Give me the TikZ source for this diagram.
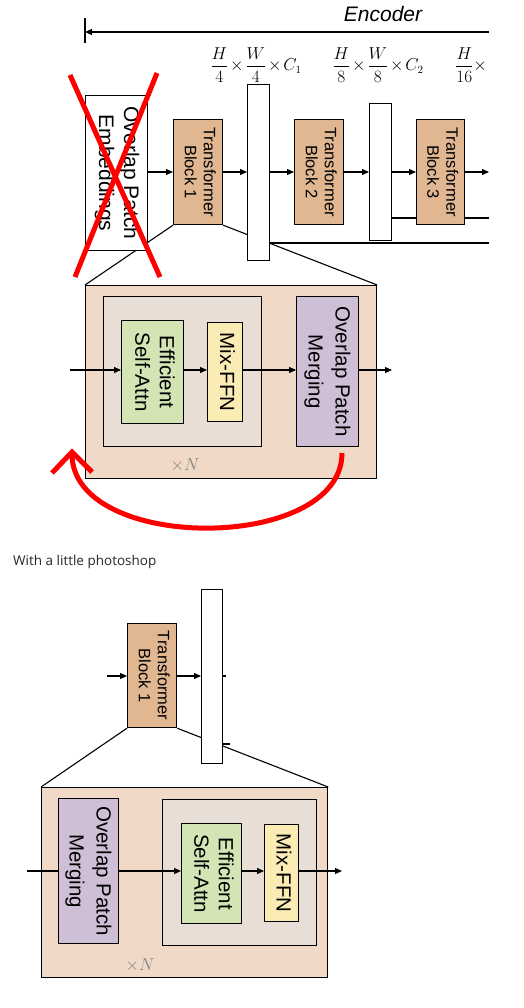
\documentclass[tikz,border=0pt]{standalone}
\usepackage[no-math]{fontspec}
\setmainfont{Liberation Sans}
\newfontfamily\notefont{Open Sans}
\usepackage{graphicx}
\usetikzlibrary{arrows.meta,backgrounds}
\definecolor{tbc}{RGB}{225,183,146}
\definecolor{bigc}{RGB}{240,218,199}
\definecolor{innc}{RGB}{232,222,214}
\definecolor{grc}{RGB}{211,229,180}
\definecolor{yec}{RGB}{250,236,180}
\definecolor{puc}{RGB}{206,191,214}
\definecolor{notec}{RGB}{40,40,40}
\newcommand{\vtxt}[3]{\rotatebox{-90}{\fontsize{#1}{#2}\selectfont\begin{tabular}{@{}c@{}}#3\end{tabular}}}
\tikzset{
  blk/.style={draw=black, line width=1.2pt, inner sep=0pt, anchor=north west},
  arr/.style={line width=1.1pt, -{Triangle[length=7pt,width=6pt]}},
  ln/.style={line width=1.1pt},
  redln/.style={draw=red, line width=5pt},
  dimlab/.style={inner sep=0pt, font=\fontsize{16}{18}\selectfont},
  xn/.style={inner sep=0pt, text=gray, font=\fontsize{18}{20}\selectfont},
}
\begin{document}
\begin{tikzpicture}[x=1pt,y=-1pt]
\begin{pgfonlayer}{background}
\fill[white] (0,0) rectangle (523,1008);
\end{pgfonlayer}
\useasboundingbox (0,0) rectangle (523,1008);

% ---------- top: encoder header ----------
\node[inner sep=0pt, font=\fontsize{21}{24}\selectfont\itshape] (enc) at (383,14) {Encoder};
\coordinate (encL) at (85,32);
\coordinate (encR) at (489,32);
\draw[arr] (encR) -- (encL);
\draw[ln] (85,18) -- (85,43);

\node[dimlab] (lab1) at (256,65) {$\medmuskip=2mu\displaystyle\frac{H}{4}\times\frac{W}{4}\times C_1$};
\node[dimlab] (lab2) at (378,65) {$\medmuskip=2mu\displaystyle\frac{H}{8}\times\frac{W}{8}\times C_2$};
\node[dimlab, anchor=west] (lab3) at (455,65) {$\medmuskip=2mu\displaystyle\frac{H}{16}\times$};

% ---------- top: pipeline ----------
\node[blk, fill=white, minimum width=62pt, minimum height=155pt] (emb) at (85,95) {\vtxt{21}{25}{Overlap Patch\\Embeddings}};
\node[blk, fill=tbc, minimum width=49pt, minimum height=105pt] (tb1) at (173,119) {\vtxt{16.5}{19}{Transformer\\Block 1}};
\node[blk, fill=white, minimum width=22pt, minimum height=176pt] (bar1) at (247,84) {};
\node[blk, fill=tbc, minimum width=49pt, minimum height=105pt] (tb2) at (294,119) {\vtxt{16.5}{19}{Transformer\\Block 2}};
\node[blk, fill=white, minimum width=22pt, minimum height=137pt] (bar2) at (369,103) {};
\node[blk, fill=tbc, minimum width=48pt, minimum height=105pt] (tb3) at (416,119) {\vtxt{16.5}{19}{Transformer\\Block 3}};

\coordinate (e3) at (489,172);
\coordinate (e1) at (489,218);
\coordinate (e2) at (489,243);
\draw[arr] (emb.east |- e3) -- (tb1.west |- e3);
\draw[arr] (tb1.east |- e3) -- (bar1.west |- e3);
\draw[arr] (bar1.east |- e3) -- (tb2.west |- e3);
\draw[arr] (tb2.east |- e3) -- (bar2.west |- e3);
\draw[arr] (bar2.east |- e3) -- (tb3.west |- e3);
\draw[arr] (tb3.east |- e3) -- (e3);
\draw[ln] (bar2.east |- e1) -- (tb3.west |- e1);
\draw[ln] (tb3.east |- e1) -- (e1);
\draw[ln] (bar1.east |- e2) -- (e2);

% ---------- top: expanded block ----------
\node[blk, fill=bigc, minimum width=291pt, minimum height=193pt] (big) at (85,285) {};
\node[blk, fill=innc, minimum width=158pt, minimum height=150pt] (inn) at (103,296) {};
\node[blk, fill=grc, minimum width=62pt, minimum height=103pt] (esa) at (121,320) {\vtxt{20.5}{24.5}{Efficient\\Self-Attn}};
\node[blk, fill=yec, minimum width=35pt, minimum height=99pt] (ffn) at (207,322) {\vtxt{20.5}{24.5}{Mix-FFN}};
\node[blk, fill=puc, minimum width=62pt, minimum height=150pt] (opm) at (296,296) {\vtxt{20.5}{27}{Overlap Patch\\Merging}};
\node[xn] (xn1) at (185,465) {$\times N$};

\coordinate (in0) at (70,370);
\coordinate (out0) at (392,370);
\draw[arr] (in0) -- (in0 -| esa.west);
\draw[arr] (esa.east |- in0) -- (ffn.west |- in0);
\draw[arr] (ffn.east |- in0) -- (opm.west |- in0);
\draw[arr] (opm.east |- in0) -- (out0);

\begin{pgfonlayer}{background}
\draw[ln] (tb1.south west) -- (big.north west);
\draw[ln] (tb1.south east) -- (big.north east);
\end{pgfonlayer}

% ---------- red marks ----------
\coordinate (rx1a) at (70,75);
\coordinate (rx1b) at (160,277);
\coordinate (rx2a) at (157,73);
\coordinate (rx2b) at (75,277);
\draw[redln] (rx1a) -- (rx1b);
\draw[redln] (rx2a) -- (rx2b);
\coordinate (rcs) at (342,453);
\coordinate (rce) at (72,454);
\draw[redln] (rcs) .. controls (342,553) and (72,553) .. (rce);
\draw[redln] (52,473) -- (72,452) -- (92,472);

% ---------- note ----------
\node[anchor=west, inner sep=0pt, text=notec, font=\notefont\fontsize{13.5}{16}\selectfont] (note) at (13,562) {With a little photoshop};

% ---------- bottom ----------
\node[blk, fill=tbc, minimum width=49pt, minimum height=104pt] (tbb) at (127,623) {\vtxt{16.5}{19}{Transformer\\Block 1}};
\node[blk, fill=white, minimum width=21pt, minimum height=174pt] (barb) at (201,589) {};
\coordinate (inb1) at (107,676);
\coordinate (stb1) at (226,676);
\coordinate (stb2) at (230,744);
\draw[arr] (inb1) -- (inb1 -| tbb.west);
\draw[arr] (tbb.east |- inb1) -- (barb.west |- inb1);
\draw[ln] (barb.east |- stb1) -- (stb1);
\draw[ln] (barb.east |- stb2) -- (stb2);

\node[blk, fill=bigc, minimum width=286pt, minimum height=190pt] (bigb) at (41,787) {};
\node[blk, fill=puc, minimum width=60pt, minimum height=145pt] (opmb) at (58,798) {\vtxt{20.5}{27}{Overlap Patch\\Merging}};
\node[blk, fill=innc, minimum width=154pt, minimum height=146pt] (innb) at (162,799) {};
\node[blk, fill=grc, minimum width=60pt, minimum height=100pt] (esab) at (181,823) {\vtxt{20.5}{24.5}{Efficient\\Self-Attn}};
\node[blk, fill=yec, minimum width=34pt, minimum height=97pt] (ffnb) at (264,824) {\vtxt{20.5}{24.5}{Mix-FFN}};
\node[xn] (xn2) at (140,965) {$\times N$};

\coordinate (inb) at (27,871);
\coordinate (outb) at (342,871);
\draw[ln] (inb) -- (inb -| opmb.west);
\draw[arr] (opmb.east |- inb) -- (esab.west |- inb);
\draw[arr] (esab.east |- inb) -- (ffnb.west |- inb);
\draw[arr] (ffnb.east |- inb) -- (outb);

\begin{pgfonlayer}{background}
\draw[ln] (tbb.south west) -- (bigb.north west);
\draw[ln] (tbb.south east) -- (bigb.north east);
\end{pgfonlayer}
\end{tikzpicture}
\end{document}
